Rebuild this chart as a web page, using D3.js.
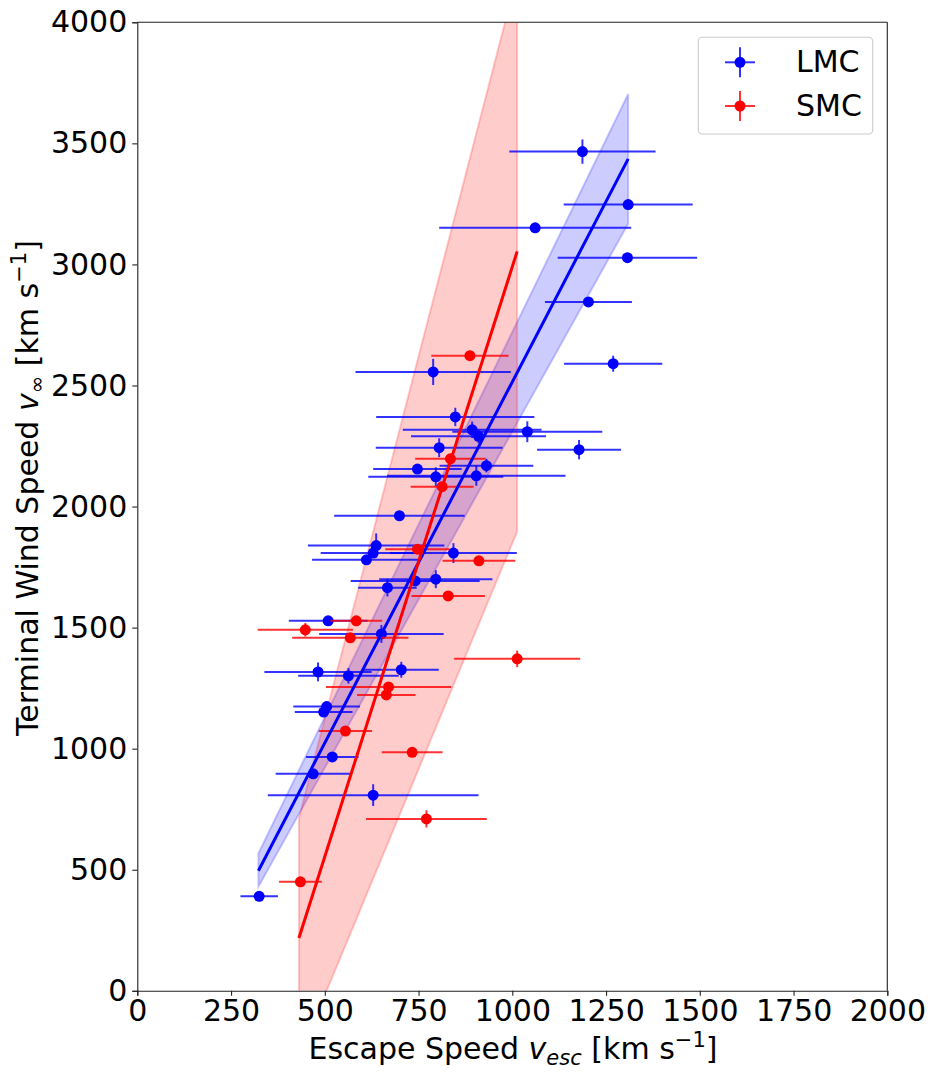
<!DOCTYPE html>
<html>
<head>
<meta charset="utf-8">
<script src="https://cdn.jsdelivr.net/npm/d3@7"></script>
<style>
  html, body { margin: 0; padding: 0; background: #fff; }
  svg { display: block; font-family: "DejaVu Sans", sans-serif; }
</style>
</head>
<body>
<svg id="chart" width="936" height="1080"></svg>
<script>
// ---------- Data ----------
// LMC (blue)
const lmcX    = [1187, 1309, 1061, 1307, 1203, 1269, 1040, 1178, 789, 848, 893, 910, 805, 931, 747, 796, 904, 699, 637, 629, 843, 611, 796, 741, 667, 509, 651, 482, 563, 704, 505, 497, 520, 469, 629, 325];
const lmcY    = [3466, 3247, 3151, 3028, 2845, 2590, 2309, 2235, 2556, 2370, 2317, 2290, 2243, 2169, 2155, 2123, 2127, 1962, 1839, 1808, 1808, 1780, 1700, 1693, 1665, 1528, 1474, 1317, 1301, 1326, 1174, 1151, 966, 896, 808, 390];
const lmcXerr = [195, 172, 256, 186, 116, 131, 200, 112, 207, 211, 185, 180, 169, 125, 118, 180, 238, 174, 182, 140, 169, 145, 151, 172, 78, 105, 166, 143, 134, 100, 89, 77, 70, 100, 281, 50];
const lmcYerr = [50, 20, 20, 20, 20, 33, 43, 40, 54, 38, 34, 28, 39, 28, 20, 39, 41, 20, 50, 20, 41, 20, 37, 20, 36, 20, 37, 39, 32, 33, 22, 20, 20, 20, 45, 20];
// SMC (red)
const smcX    = [887, 835, 813, 747, 911, 829, 584, 448, 568, 1013, 670, 664, 555, 733, 771, 435];
const smcY    = [2623, 2197, 2082, 1824, 1776, 1631, 1528, 1491, 1458, 1371, 1255, 1222, 1073, 985, 710, 450];
const smcXerr = [103, 94, 84, 86, 97, 98, 69, 127, 155, 168, 167, 78, 71, 81, 161, 57];
const smcYerr = [20, 20, 20, 20, 20, 20, 20, 28, 20, 34, 20, 20, 20, 20, 36, 20];
// Fits and confidence bands (endpoints)
const lmcFitX = [323, 1309], lmcFitY = [496, 3436], lmcBandLo = [430, 3168], lmcBandHi = [568, 3704];
const smcFitX = [431, 1013], smcFitY = [218, 3054], smcBandLo = [-276, 1897], smcBandHi = [713, 4193];
// Ticks
const xTicks = [0, 250, 500, 750, 1000, 1250, 1500, 1750, 2000];
const yTicks = [0, 500, 1000, 1500, 2000, 2500, 3000, 3500, 4000];
const seriesNames = ["LMC", "SMC"];

// ---------- Layout ----------
const L = 137.3, R = 887.3, T = 22.3, B = 990.8;
const FS = 30;
const svg = d3.select("#chart");
svg.append("rect").attr("width", 936).attr("height", 1080).attr("fill", "#fff");

const x = d3.scaleLinear().domain([0, 2000]).range([L, R]);
const y = d3.scaleLinear().domain([0, 4000]).range([B, T]);

svg.append("defs").append("clipPath").attr("id", "clip")
  .append("rect").attr("x", L).attr("y", T).attr("width", R - L).attr("height", B - T);

const plot = svg.append("g").attr("clip-path", "url(#clip)");

function band(xs, lo, hi, color) {
  const pts = xs.map((xv, i) => ({ x: xv, lo: lo[i], hi: hi[i] }));
  const area = d3.area().x(d => x(d.x)).y0(d => y(d.lo)).y1(d => y(d.hi));
  plot.append("path").attr("d", area(pts))
    .attr("fill", color).attr("fill-opacity", 0.2)
    .attr("stroke", color).attr("stroke-opacity", 0.2).attr("stroke-width", 2);
}
band(lmcFitX, lmcBandLo, lmcBandHi, "blue");
band(smcFitX, smcBandLo, smcBandHi, "red");

function errorbars(xs, ys, xe, ye, color) {
  const g = plot.append("g");
  const data = xs.map((xv, i) => ({ x: xv, y: ys[i], xe: xe[i], ye: ye[i] }));
  g.selectAll("line.h").data(data).join("line")
    .attr("x1", d => x(d.x - d.xe)).attr("x2", d => x(d.x + d.xe))
    .attr("y1", d => y(d.y)).attr("y2", d => y(d.y))
    .attr("stroke", color).attr("stroke-opacity", 0.8).attr("stroke-width", 2);
  g.selectAll("line.v").data(data).join("line")
    .attr("x1", d => x(d.x)).attr("x2", d => x(d.x))
    .attr("y1", d => y(d.y - d.ye)).attr("y2", d => y(d.y + d.ye))
    .attr("stroke", color).attr("stroke-opacity", 0.8).attr("stroke-width", 2);
  g.selectAll("circle").data(data).join("circle")
    .attr("cx", d => x(d.x)).attr("cy", d => y(d.y)).attr("r", 5.5)
    .attr("fill", color);
}
errorbars(lmcX, lmcY, lmcXerr, lmcYerr, "blue");
errorbars(smcX, smcY, smcXerr, smcYerr, "red");

function fitLine(xs, ys, color) {
  const line = d3.line().x(d => x(d[0])).y(d => y(d[1]));
  plot.append("path").attr("d", line(xs.map((v, i) => [v, ys[i]])))
    .attr("fill", "none").attr("stroke", color).attr("stroke-width", 3);
}
fitLine(lmcFitX, lmcFitY, "blue");
fitLine(smcFitX, smcFitY, "red");

// ---------- Axes ----------
const xAxis = svg.append("g").attr("transform", `translate(0,${B})`)
  .call(d3.axisBottom(x).tickValues(xTicks).tickFormat(d3.format("d")).tickSize(5).tickPadding(4));
const yAxis = svg.append("g").attr("transform", `translate(${L},0)`)
  .call(d3.axisLeft(y).tickValues(yTicks).tickFormat(d3.format("d")).tickSize(5).tickPadding(5));
[xAxis, yAxis].forEach(a => {
  a.selectAll("text").attr("font-size", FS).attr("font-family", "DejaVu Sans").attr("fill", "#000");
  a.selectAll("line").attr("stroke", "#222").attr("stroke-width", 1.1);
  a.select(".domain").attr("stroke", "#222").attr("stroke-width", 1.1);
});
// top & right spines
svg.append("line").attr("x1", L).attr("x2", R).attr("y1", T).attr("y2", T).attr("stroke", "#222").attr("stroke-width", 1.1);
svg.append("line").attr("x1", R).attr("x2", R).attr("y1", T).attr("y2", B).attr("stroke", "#222").attr("stroke-width", 1.1);

// ---------- Axis labels ----------
const xl = svg.append("text").attr("x", 513).attr("y", 1059).attr("text-anchor", "middle")
  .attr("font-size", FS).attr("fill", "#000");
xl.append("tspan").text("Escape Speed ");
xl.append("tspan").attr("font-style", "italic").text("v");
xl.append("tspan").attr("font-style", "italic").attr("font-size", FS * 0.7).attr("dy", 6).text("esc");
xl.append("tspan").attr("dy", -6).text(" [km s");
xl.append("tspan").attr("font-size", FS * 0.7).attr("dy", -12).text("−1");
xl.append("tspan").attr("dy", 12).text("]");

const yl = svg.append("text").attr("transform", "translate(38,488) rotate(-90)")
  .attr("text-anchor", "middle").attr("font-size", FS).attr("fill", "#000");
yl.append("tspan").text("Terminal Wind Speed ");
yl.append("tspan").attr("font-style", "italic").text("v");
yl.append("tspan").attr("font-size", FS * 0.7).attr("dy", 6).text("∞");
yl.append("tspan").attr("dy", -6).text(" [km s");
yl.append("tspan").attr("font-size", FS * 0.7).attr("dy", -12).text("−1");
yl.append("tspan").attr("dy", 12).text("]");

// ---------- Legend ----------
const lg = svg.append("g");
lg.append("rect").attr("x", 698.3).attr("y", 37.3).attr("width", 174.4).attr("height", 96.7)
  .attr("rx", 4).attr("fill", "#fff").attr("fill-opacity", 0.8)
  .attr("stroke", "#ccc").attr("stroke-width", 1.1);
const legColors = ["blue", "red"];
const legY = [62.3, 106];
seriesNames.forEach((name, i) => {
  const cy = legY[i], cx = 740, c = legColors[i];
  lg.append("line").attr("x1", cx - 15).attr("x2", cx + 15).attr("y1", cy).attr("y2", cy)
    .attr("stroke", c).attr("stroke-opacity", 0.8).attr("stroke-width", 2);
  lg.append("line").attr("x1", cx).attr("x2", cx).attr("y1", cy - 15).attr("y2", cy + 15)
    .attr("stroke", c).attr("stroke-opacity", 0.8).attr("stroke-width", 2);
  lg.append("circle").attr("cx", cx).attr("cy", cy).attr("r", 5.5).attr("fill", c);
  lg.append("text").attr("x", 796).attr("y", cy + 9.7).attr("font-size", FS).attr("fill", "#000").text(name);
});
</script>
</body>
</html>
